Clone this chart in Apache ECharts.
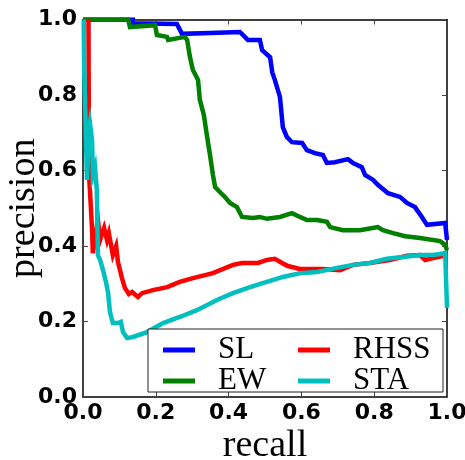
<!DOCTYPE html>
<html>
<head>
<meta charset="utf-8">
<script src="https://cdn.jsdelivr.net/npm/echarts@6/dist/echarts.min.js"></script>
<style>html,body{margin:0;padding:0;background:#fff}#c{width:465px;height:460px}</style>
</head>
<body>
<div id="c"></div>
<script>
var seriesNames = ['SL', 'EW', 'RHSS', 'STA'];
var tickValues = [0, 0.2, 0.4, 0.6, 0.8, 1.0];

var SL = [[0,1.0],[0.137,1.0],[0.137,0.99],[0.258,0.988],[0.272,0.962],[0.35,0.964],[0.431,0.967],[0.453,0.946],[0.486,0.946],[0.492,0.919],[0.514,0.90],[0.52,0.86],[0.527,0.84],[0.541,0.795],[0.549,0.715],[0.560,0.689],[0.574,0.675],[0.602,0.673],[0.615,0.654],[0.637,0.646],[0.659,0.641],[0.670,0.620],[0.692,0.622],[0.728,0.630],[0.742,0.620],[0.766,0.609],[0.775,0.588],[0.797,0.575],[0.810,0.562],[0.838,0.540],[0.871,0.530],[0.890,0.514],[0.912,0.503],[0.931,0.477],[0.945,0.456],[0.995,0.461],[1.0,0.46],[1.0,0.416]];

var EW = [[0,1.0],[0.124,1.0],[0.129,0.98],[0.198,0.985],[0.203,0.959],[0.231,0.954],[0.234,0.946],[0.280,0.954],[0.286,0.946],[0.294,0.90],[0.302,0.866],[0.316,0.840],[0.321,0.787],[0.332,0.747],[0.341,0.689],[0.349,0.641],[0.357,0.588],[0.363,0.556],[0.376,0.543],[0.390,0.530],[0.404,0.514],[0.423,0.503],[0.437,0.477],[0.467,0.474],[0.486,0.477],[0.505,0.472],[0.541,0.477],[0.574,0.487],[0.596,0.477],[0.615,0.469],[0.643,0.469],[0.670,0.464],[0.679,0.450],[0.714,0.442],[0.761,0.442],[0.780,0.445],[0.810,0.450],[0.824,0.442],[0.852,0.434],[0.885,0.426],[0.926,0.421],[0.981,0.413],[0.995,0.403],[1.0,0.389]];

var RHSS = [[0.015,1.0],[0.016,0.734],[0.016,0.60],[0.019,0.548],[0.025,0.442],[0.027,0.381],[0.041,0.469],[0.047,0.416],[0.058,0.448],[0.066,0.416],[0.071,0.434],[0.082,0.376],[0.091,0.40],[0.096,0.358],[0.107,0.315],[0.115,0.289],[0.126,0.273],[0.135,0.278],[0.151,0.265],[0.162,0.275],[0.192,0.283],[0.231,0.291],[0.266,0.305],[0.302,0.315],[0.357,0.328],[0.412,0.350],[0.437,0.355],[0.481,0.355],[0.505,0.363],[0.527,0.366],[0.547,0.355],[0.563,0.347],[0.596,0.339],[0.659,0.339],[0.706,0.336],[0.742,0.350],[0.788,0.355],[0.843,0.363],[0.890,0.374],[0.926,0.376],[0.940,0.363],[0.962,0.368],[1.0,0.376]];

var STA = [[0.002,1.0],[0.003,0.89],[0.005,0.805],[0.011,0.575],[0.016,0.707],[0.019,0.726],[0.025,0.68],[0.027,0.588],[0.033,0.609],[0.038,0.548],[0.041,0.376],[0.047,0.363],[0.055,0.336],[0.063,0.305],[0.069,0.275],[0.074,0.225],[0.082,0.196],[0.096,0.196],[0.104,0.199],[0.110,0.172],[0.121,0.156],[0.137,0.159],[0.176,0.172],[0.220,0.196],[0.266,0.212],[0.313,0.230],[0.368,0.257],[0.412,0.275],[0.459,0.291],[0.505,0.305],[0.549,0.318],[0.596,0.328],[0.643,0.331],[0.698,0.342],[0.742,0.350],[0.788,0.355],[0.835,0.366],[0.879,0.371],[0.926,0.376],[0.962,0.376],[0.995,0.381],[1.0,0.381],[1.0,0.236]];

var seriesData = [SL, EW, RHSS, STA];
var colors = ['#0000ff', '#008000', '#ff0000', '#00bfbf'];

var chart = echarts.init(document.getElementById('c'));
var tickFont = {fontFamily: 'DejaVu Sans', fontWeight: 'bold', fontSize: 22, color: '#000'};
function fmt(v){ return v.toFixed(1); }

function mkAxis(pos, isX, main){
  return {
    type: 'value', position: pos, min: 0, max: 1, interval: 0.2,
    axisLine: {show: true, onZero: false, lineStyle: {color: '#000', width: 1.5}},
    axisTick: {show: true, inside: true, length: 5, lineStyle: {color: '#444', width: 1}},
    splitLine: {show: false},
    axisLabel: main ? Object.assign({show: true, margin: isX ? 5 : 6, formatter: fmt, showMinLabel: true, showMaxLabel: true}, tickFont) : {show: false},
    name: main ? (isX ? 'recall' : 'precision') : '',
    nameLocation: 'middle',
    nameMoveOverlap: false,
    nameGap: isX ? 30 : 40,
    nameTextStyle: {fontFamily: 'Liberation Serif', fontSize: 38, color: '#000'}
  };
}

var legendStyle = {fontFamily: 'Liberation Serif', fontSize: 31, color: '#000', lineHeight: 29, padding: [0,0,0,18]};

chart.setOption({
  animation: false,
  color: colors,
  grid: {left: 83, right: 18, top: 19.5, bottom: 63, outerBoundsMode: 'none'},
  xAxis: [mkAxis('bottom', true, true), mkAxis('top', true, false)],
  yAxis: [mkAxis('left', false, true), mkAxis('right', false, false)],
  graphic: [{type: 'rect', z: 3, shape: {x: 148, y: 329, width: 295, height: 63}, style: {fill: '#fff', stroke: '#222', lineWidth: 1}}],
  legend: [
    {data: [seriesNames[0], seriesNames[1]], orient: 'vertical', left: 158, top: 329.5, itemGap: 0, itemWidth: 32, itemHeight: 5, icon: 'rect', z: 5, textStyle: legendStyle},
    {data: [seriesNames[2], seriesNames[3]], orient: 'vertical', left: 293, top: 329.5, itemGap: 0, itemWidth: 32, itemHeight: 5, icon: 'rect', z: 5, textStyle: legendStyle}
  ],
  series: seriesNames.map(function(n, i){
    return {name: n, type: 'line', data: seriesData[i], showSymbol: false, symbol: 'none', clip: true, z: 2,
      lineStyle: {width: 4.5, color: colors[i], join: 'miter'}, itemStyle: {color: colors[i]}};
  })
});
</script>
</body>
</html>
